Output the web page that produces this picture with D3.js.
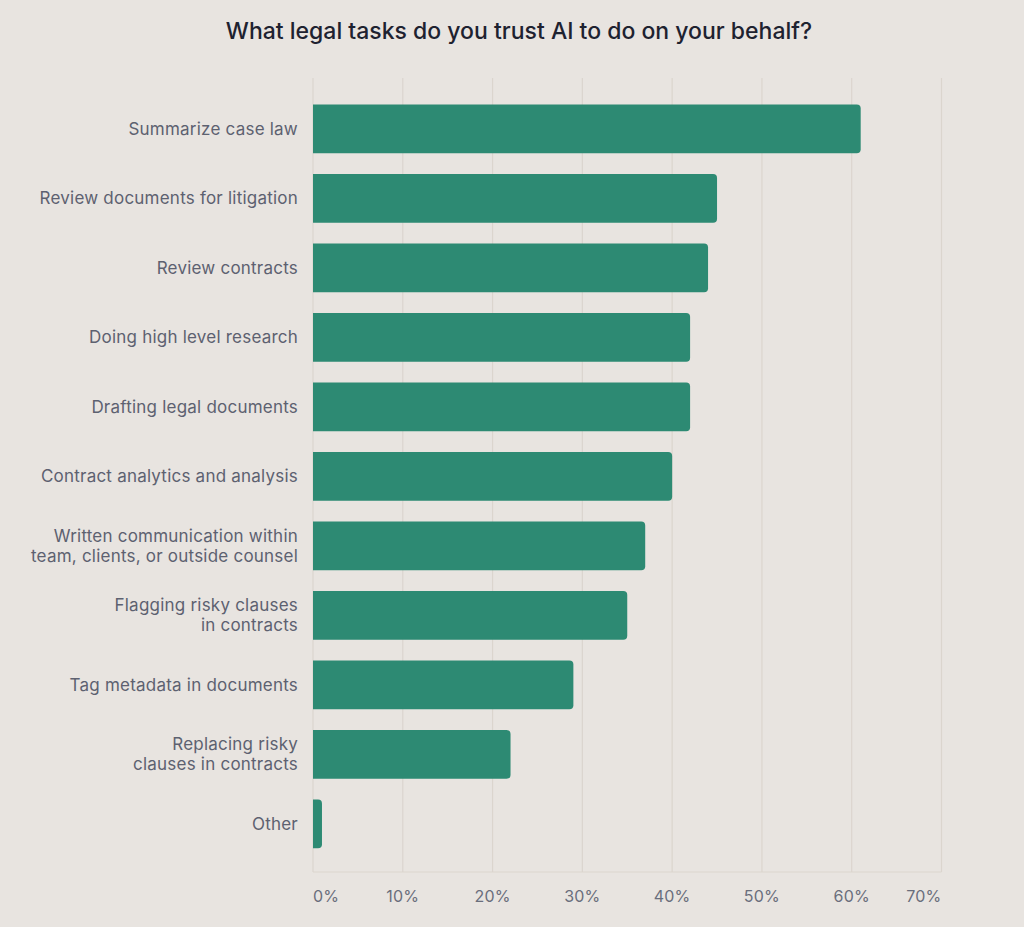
<!DOCTYPE html>
<html>
<head>
<meta charset="utf-8">
<script src="https://cdn.jsdelivr.net/npm/d3@7"></script>
<style>
  html, body { margin: 0; padding: 0; background: #e8e4e0; }
  svg { display: block; }
</style>
</head>
<body>
<svg id="chart" width="1024" height="927"></svg>
<script>
const title = "What legal tasks do you trust AI to do on your behalf?";
const categories = [
  ["Summarize case law"],
  ["Review documents for litigation"],
  ["Review contracts"],
  ["Doing high level research"],
  ["Drafting legal documents"],
  ["Contract analytics and analysis"],
  ["Written communication within", "team, clients, or outside counsel"],
  ["Flagging risky clauses", "in contracts"],
  ["Tag metadata in documents"],
  ["Replacing risky", "clauses in contracts"],
  ["Other"]
];
const values = [61, 45, 44, 42, 42, 40, 37, 35, 29, 22, 1];
const tickValues = [0, 10, 20, 30, 40, 50, 60, 70];
const tickLabels = ["0%", "10%", "20%", "30%", "40%", "50%", "60%", "70%"];

const svg = d3.select("#chart");
const W = 1024, H = 927;

// background
svg.append("rect").attr("width", W).attr("height", H).attr("fill", "#e8e4e0");
const defs = svg.append("defs");
const rg = defs.append("radialGradient").attr("id", "shade")
  .attr("cx", "0.35").attr("cy", "1.0").attr("r", "0.6");
rg.append("stop").attr("offset", "0").attr("stop-color", "#bdb8b2").attr("stop-opacity", 0.55);
rg.append("stop").attr("offset", "1").attr("stop-color", "#e8e4e0").attr("stop-opacity", 0);
svg.append("ellipse").attr("cx", 250).attr("cy", 940).attr("rx", 420).attr("ry", 45)
  .attr("fill", "url(#shade)");

const x = d3.scaleLinear().domain([0, 70]).range([313, 941.5]);
const y = d3.scaleBand().domain(d3.range(categories.length))
  .range([94.1, 858.6]).paddingInner(0.3).paddingOuter(0.15);

const gridTop = 78, gridBottom = 872;

// gridlines
svg.append("g").selectAll("line").data(tickValues).join("line")
  .attr("x1", d => x(d)).attr("x2", d => x(d))
  .attr("y1", gridTop).attr("y2", gridBottom)
  .attr("stroke", "#dbd5ce").attr("stroke-width", 1.2);

// bottom axis line
svg.append("line").attr("x1", x(0)).attr("x2", x(70))
  .attr("y1", gridBottom).attr("y2", gridBottom)
  .attr("stroke", "#dbd5ce").attr("stroke-width", 1.2);

// bars (rounded right corners)
const r = 4;
function barPath(x0, x1, y0, h) {
  const w = x1 - x0;
  const rr = Math.min(r, w / 2, h / 2);
  return `M${x0},${y0}H${x1 - rr}Q${x1},${y0} ${x1},${y0 + rr}V${y0 + h - rr}Q${x1},${y0 + h} ${x1 - rr},${y0 + h}H${x0}Z`;
}
svg.append("g").selectAll("path").data(values).join("path")
  .attr("d", (d, i) => barPath(x(0), x(d), y(i), y.bandwidth()))
  .attr("fill", "#2d8a73");

// category labels
const lab = svg.append("g").selectAll("text").data(categories).join("text")
  .attr("x", 298)
  .attr("text-anchor", "end")
  .attr("font-family", "Inter, 'Noto Sans', sans-serif")
  .attr("font-size", 17)
  .attr("letter-spacing", "0.22px")
  .attr("fill", "#5d6170")
  .attr("transform", (d, i) => `translate(0,${y(i) + y.bandwidth() / 2})`);
lab.each(function(d) {
  const t = d3.select(this);
  const lh = 20;
  const start = -((d.length - 1) * lh) / 2;
  d.forEach((line, k) => {
    t.append("tspan").attr("x", 298).attr("y", start + k * lh).attr("dy", "0.36em").text(line);
  });
});

// tick labels
svg.append("g").selectAll("text").data(tickValues).join("text")
  .attr("x", d => x(d))
  .attr("y", 896)
  .attr("dy", "0.36em")
  .attr("text-anchor", (d, i) => i === 0 ? "start" : (i === tickValues.length - 1 ? "end" : "middle"))
  .attr("font-family", "Inter, 'Noto Sans', sans-serif")
  .attr("font-size", 16)
  .attr("letter-spacing", "0.2px")
  .attr("fill", "#6a6e7c")
  .text((d, i) => tickLabels[i]);

// title
svg.append("text").attr("x", 519).attr("y", 31).attr("dy", "0.36em")
  .attr("text-anchor", "middle")
  .attr("font-family", "Inter, 'Noto Sans', sans-serif")
  .attr("font-size", 23)
  .attr("font-weight", 500)
  .attr("fill", "#1e2230")
  .text(title);
</script>
</body>
</html>
